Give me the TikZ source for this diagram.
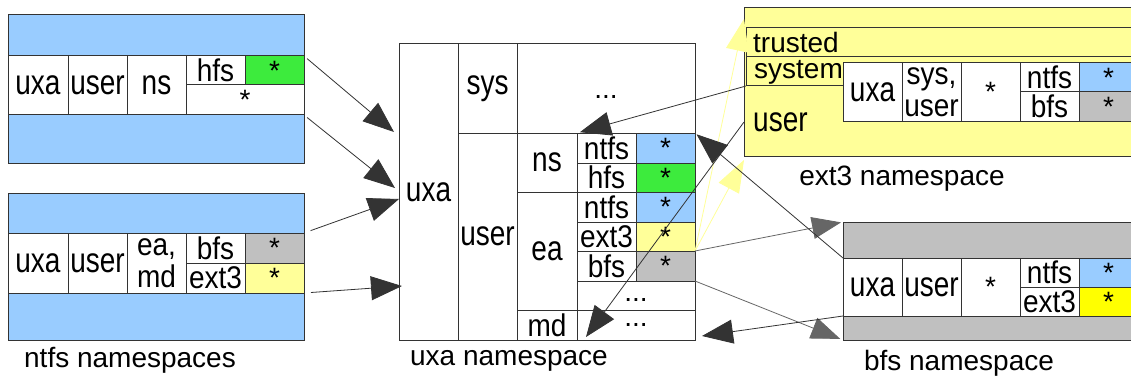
\documentclass[tikz,border=0pt]{standalone}
\usepackage{fontspec}
\setmainfont{Liberation Sans}
\usepackage{graphicx}
\usetikzlibrary{arrows.meta,calc}

\definecolor{skyfill}{HTML}{99CCFF}
\definecolor{grassfill}{RGB}{61,235,61}
\definecolor{stonefill}{HTML}{C0C0C0}
\definecolor{creamfill}{HTML}{FFFF99}
\definecolor{lemonfill}{HTML}{FFFF00}
\definecolor{gridline}{HTML}{333333}
\definecolor{darkline}{HTML}{333333}
\definecolor{midgrey}{HTML}{666666}

\pgfdeclarelayer{behind}
\pgfsetlayers{behind,main}

% text in tall table cells is set stretched
\newcommand\tall[1]{\scalebox{1}[1.25]{#1}}
% text in single-row cells is stretched a little less
\newcommand\slim[1]{\scalebox{1}[1.12]{#1}}
% dots sitting low in their cell
\newcommand\lowdots[1]{\smash{\raisebox{-#1pt}{...}}}
% \cellat{name}{x1}{y1}{x2}{y2}{fill}{text}
\newcommand\cellat[7]{%
  \node[cellst, fill=#6, minimum width={(#4-#2)*1pt}, minimum height={(#5-#3)*1pt}]
    (#1) at ({(#2+#4)/2},{(#3+#5)/2}) {#7};}

\tikzset{
  cellst/.style={draw=gridline, line width=1pt, inner sep=0pt, outer sep=0pt, align=center},
  darkarrow/.style={draw=darkline, line width=0.8pt, -{Triangle[length=31pt,width=24pt,color=darkline]}},
  greyarrow/.style={draw=midgrey, line width=0.8pt, -{Triangle[length=29pt,width=22pt,color=midgrey]}},
  skyarrow/.style={draw=skyfill, line width=0.8pt, -{Triangle[length=32pt,width=23pt,color=skyfill]}},
  creamarrow/.style={draw=creamfill, line width=0.8pt, -{Triangle[length=32pt,width=23pt,color=creamfill]}},
  caption/.style={inner sep=0pt},
}

\begin{document}
\begin{tikzpicture}[x=1pt, y=-1pt, font=\fontsize{28}{32}\selectfont]
\useasboundingbox (0,0) rectangle (1131,377);
\fill[white] (0,0) rectangle (1131,377);

% ---- ntfs namespace (hfs) ----
\cellat{nt1}{8}{15}{304}{163}{skyfill}{}
\cellat{nt1uxa}{8}{56}{68}{115}{white}{\tall{uxa}}
\cellat{nt1user}{68}{56}{127}{115}{white}{\tall{user}}
\cellat{nt1ns}{127}{56}{186}{115}{white}{\tall{ns}}
\cellat{nt1hfs}{186}{56}{245}{85}{white}{\slim{hfs}}
\cellat{nt1hfsv}{245}{56}{304}{85}{grassfill}{*}
\cellat{nt1rest}{186}{85}{304}{115}{white}{*}

% ---- ntfs namespace (ea, md) ----
\cellat{nt2}{8}{193}{304}{340}{skyfill}{}
\cellat{nt2uxa}{8}{233}{68}{293}{white}{\tall{uxa}}
\cellat{nt2user}{68}{233}{127}{293}{white}{\tall{user}}
\cellat{nt2key}{127}{233}{186}{293}{white}{\slim{ea,}\\\slim{md}}
\cellat{nt2bfs}{186}{233}{245}{263}{white}{\slim{bfs}}
\cellat{nt2bfsv}{245}{233}{304}{263}{stonefill}{*}
\cellat{nt2ext}{186}{263}{245}{293}{white}{\slim{ext3}}
\cellat{nt2extv}{245}{263}{304}{293}{creamfill}{*}
\node[caption] (lntfs) at (130,360) {ntfs namespaces};

% ---- uxa namespace ----
\cellat{ux}{399}{44}{458}{340}{none}{\tall{uxa}}
\cellat{uxsys}{458}{44}{517}{133}{none}{\tall{sys}}
\cellat{uxsysrest}{517}{44}{695}{133}{none}{\lowdots{10}}
\cellat{uxuser}{458}{133}{517}{340}{none}{\tall{user}}
\cellat{uxns}{517}{133}{577}{192}{none}{\tall{ns}}
\cellat{uxnsn}{577}{133}{636}{163}{white}{\slim{ntfs}}
\cellat{uxnsnv}{636}{133}{695}{163}{skyfill}{*}
\cellat{uxnsh}{577}{163}{636}{192}{white}{\slim{hfs}}
\cellat{uxnshv}{636}{163}{695}{192}{grassfill}{*}
\cellat{uxea}{517}{192}{577}{310}{none}{\tall{ea}}
\cellat{uxean}{577}{192}{636}{222}{white}{\slim{ntfs}}
\cellat{uxeanv}{636}{192}{695}{222}{skyfill}{*}
\cellat{uxeae}{577}{222}{636}{251}{white}{\slim{ext3}}
\cellat{uxeaev}{636}{222}{695}{251}{creamfill}{*}
\cellat{uxeab}{577}{251}{636}{281}{white}{\slim{bfs}}
\cellat{uxeabv}{636}{251}{695}{281}{stonefill}{*}
\cellat{uxearest}{577}{281}{695}{310}{white}{\lowdots{6}}
\cellat{uxmd}{517}{310}{577}{340}{none}{\slim{md}}
\cellat{uxmdrest}{577}{310}{695}{340}{white}{...}
\node[caption] (luxa) at (509,361) {uxa namespace};

% ---- ext3 namespace ----
\cellat{e3}{744}{8}{1140}{156}{creamfill}{}
\cellat{e3tr}{746}{28}{1140}{57}{creamfill}{}
\cellat{e3sy}{746}{57}{1140}{86}{creamfill}{}
\node[anchor=west, inner sep=0pt] (e3trt) at ([xshift=7pt]e3tr.west) {trusted};
\node[anchor=west, inner sep=0pt] (e3syt) at ([xshift=8pt,yshift=-1pt]e3sy.west) {system};
\node[anchor=west, inner sep=0pt] (e3ust) at (753,122) {\tall{user}};
\cellat{e3uxa}{843}{63}{902}{121}{white}{\tall{uxa}}
\cellat{e3key}{902}{63}{961}{121}{white}{\slim{sys,}\\\slim{user}}
\cellat{e3any}{961}{63}{1020}{121}{white}{*}
\cellat{e3n}{1020}{63}{1079}{92}{white}{\slim{ntfs}}
\cellat{e3nv}{1079}{63}{1138}{92}{skyfill}{*}
\cellat{e3b}{1020}{92}{1079}{121}{white}{\slim{bfs}}
\cellat{e3bv}{1079}{92}{1138}{121}{stonefill}{*}
\node[caption] (lext) at (902,179) {ext3 namespace};

% ---- bfs namespace ----
\cellat{bf}{843}{222}{1140}{340}{stonefill}{}
\cellat{bfuxa}{843}{258}{902}{316}{white}{\tall{uxa}}
\cellat{bfuser}{902}{258}{961}{316}{white}{\tall{user}}
\cellat{bfany}{961}{258}{1020}{316}{white}{*}
\cellat{bfn}{1020}{258}{1079}{287}{white}{\slim{ntfs}}
\cellat{bfnv}{1079}{258}{1138}{287}{skyfill}{*}
\cellat{bfe}{1020}{287}{1079}{316}{white}{\slim{ext3}}
\cellat{bfev}{1079}{287}{1138}{316}{lemonfill}{*}
\node[caption] (lbfs) at (959,363) {bfs namespace};

% ---- free ends of the connectors ----
\coordinate (inA) at (394,132);
\coordinate (inB) at (395,188);
\coordinate (inC) at (399,199);
\coordinate (inD) at (402,286);
\coordinate (outA) at (311,18);
\coordinate (outB) at (311,162);
\coordinate (outC) at (311,193);
\coordinate (outD) at (335,340);
\coordinate (toTrusted) at (744,19);
\coordinate (toUser) at (744,160);
\coordinate (e3side) at (744,122);
\coordinate (mdA) at (586,337);
\coordinate (mdB) at (702,336);

% lookups into ntfs run underneath the table cells
\begin{pgfonlayer}{behind}
\draw[skyarrow] (uxnsnv.north west) -- (outA);
\draw[skyarrow] ([yshift=1pt]uxnsnv.south west) -- (outB);
\draw[skyarrow] (uxeanv.north west) -- (outC);
\draw[skyarrow] (uxeanv.south west) -- (outD);
\end{pgfonlayer}

% ntfs -> uxa
\draw[darkarrow, shorten <=4pt] (nt1hfsv.north east) -- (inA);
\draw[darkarrow, shorten <=4pt] (nt1rest.south east) -- (inB);
\draw[darkarrow, shorten <=7pt] (nt2bfsv.north east) -- (inC);
\draw[darkarrow, shorten <=7pt] (nt2extv.south east) -- (inD);

% uxa -> ext3
\draw[creamarrow] (uxeaev.south east) -- (toTrusted);
\draw[creamarrow] (uxeaev.south east) -- (toUser);

% uxa -> bfs
\draw[greyarrow, shorten >=2pt] (uxeaev.south east) -- (bf.north west);
\draw[greyarrow, shorten >=3pt] (uxeabv.south east) -- (bf.south west);

% ext3 -> uxa
\draw[darkarrow, shorten >=3pt] (e3sy.south west) -- (uxnsn.north west);
\draw[darkarrow] (e3side) -- (mdA);

% bfs -> uxa
\draw[darkarrow, shorten >=2pt] (bfuxa.north west) -- (uxnsnv.north east);
\draw[darkarrow] (bfuxa.south west) -- (mdB);
\end{tikzpicture}
\end{document}
